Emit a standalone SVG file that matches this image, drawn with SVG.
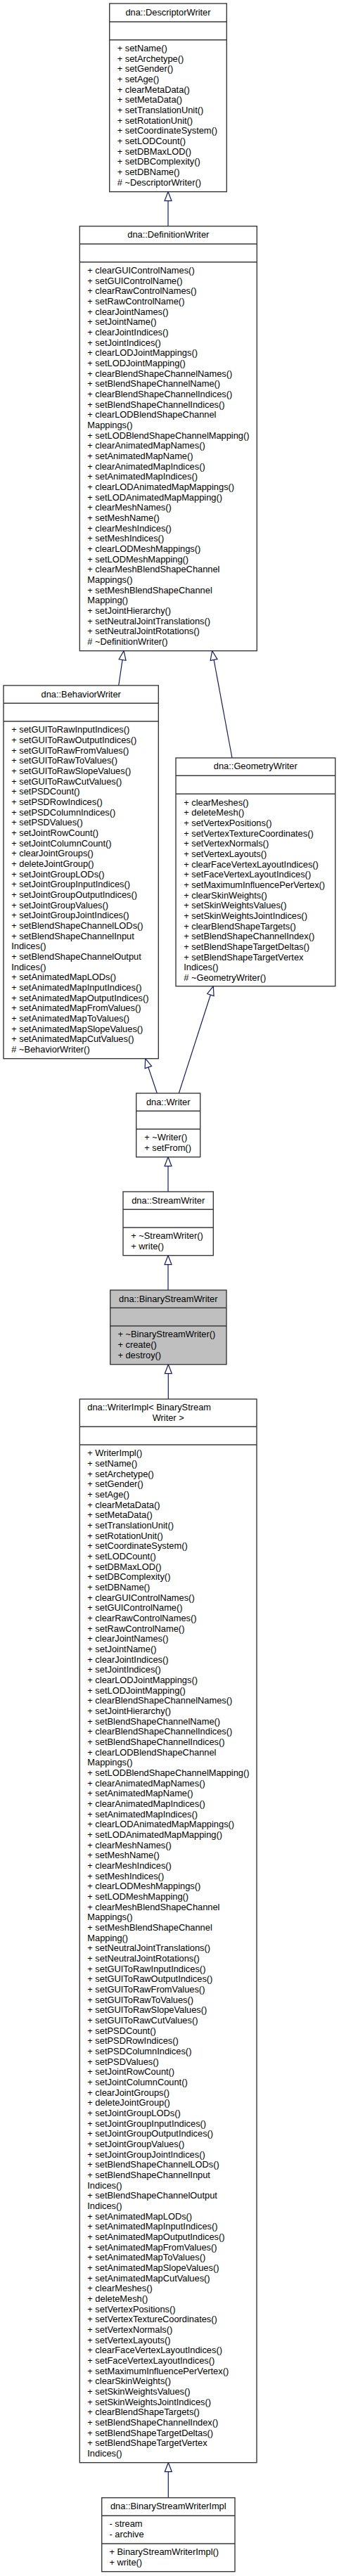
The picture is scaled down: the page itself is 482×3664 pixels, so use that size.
<svg xmlns="http://www.w3.org/2000/svg" width="482" height="3664" viewBox="0 0 482 3664">
<style>
.box{fill:#ffffff;stroke:#3a3a3a;stroke-width:1.4}
.cur{fill:#bfbfbf;stroke:#3a3a3a;stroke-width:1.4}
.sep{stroke:#3a3a3a;stroke-width:1.4}
text{font-family:"Liberation Sans",Arial,Helvetica,sans-serif;font-size:12.85px;fill:#000000}
.t{text-anchor:middle}
.edge{fill:none;stroke:#191970;stroke-width:1.2}
</style>
<defs>
<marker id="inh" markerUnits="userSpaceOnUse" viewBox="-1 -7 16 14" markerWidth="16" markerHeight="14" refX="13" refY="0" orient="auto" overflow="visible">
<path d="M0,-5 L13,0 L0,5 Z" fill="#ffffff" stroke="#191970" stroke-width="1.2"/>
</marker>
</defs>
<rect x="0" y="0" width="482" height="3664" fill="#ffffff"/>

<g id="connectors">
<line class="edge" x1="239" y1="321.7" x2="239" y2="272.7" marker-end="url(#inh)"/>
<line class="edge" x1="168.7" y1="975" x2="176" y2="925.7" marker-end="url(#inh)"/>
<line class="edge" x1="330" y1="1078" x2="301.7" y2="925.7" marker-end="url(#inh)"/>
<line class="edge" x1="223.3" y1="1555" x2="206.7" y2="1505.7" marker-end="url(#inh)"/>
<line class="edge" x1="254.3" y1="1555" x2="303.3" y2="1402.7" marker-end="url(#inh)"/>
<line class="edge" x1="239" y1="1695" x2="239" y2="1645.7" marker-end="url(#inh)"/>
<line class="edge" x1="239" y1="1835" x2="239" y2="1785.7" marker-end="url(#inh)"/>
<line class="edge" x1="239.3" y1="1990" x2="239.3" y2="1940.7" marker-end="url(#inh)"/>
<line class="edge" x1="239.3" y1="3552.7" x2="239.3" y2="3502.7" marker-end="url(#inh)"/>
</g>

<g id="DescriptorWriter">
<rect class="box" x="155.7" y="5" width="166.6" height="267.7"/>
<line class="sep" x1="155.7" y1="31" x2="322.3" y2="31"/>
<line class="sep" x1="155.7" y1="56.7" x2="322.3" y2="56.7"/>
<text class="t" x="239" y="22">dna::DescriptorWriter</text>
<text x="166.7" y="72.9"><tspan>+ setName()</tspan><tspan x="166.7" dy="14.667">+ setArchetype()</tspan><tspan x="166.7" dy="14.667">+ setGender()</tspan><tspan x="166.7" dy="14.667">+ setAge()</tspan><tspan x="166.7" dy="14.667">+ clearMetaData()</tspan><tspan x="166.7" dy="14.667">+ setMetaData()</tspan><tspan x="166.7" dy="14.667">+ setTranslationUnit()</tspan><tspan x="166.7" dy="14.667">+ setRotationUnit()</tspan><tspan x="166.7" dy="14.667">+ setCoordinateSystem()</tspan><tspan x="166.7" dy="14.667">+ setLODCount()</tspan><tspan x="166.7" dy="14.667">+ setDBMaxLOD()</tspan><tspan x="166.7" dy="14.667">+ setDBComplexity()</tspan><tspan x="166.7" dy="14.667">+ setDBName()</tspan><tspan x="166.7" dy="14.667"># ~DescriptorWriter()</tspan></text>
</g>

<g id="DefinitionWriter">
<rect class="box" x="113.3" y="321.7" width="252" height="604"/>
<line class="sep" x1="113.3" y1="347" x2="365.3" y2="347"/>
<line class="sep" x1="113.3" y1="372.7" x2="365.3" y2="372.7"/>
<text class="t" x="239.3" y="338.3">dna::DefinitionWriter</text>
<text x="124.3" y="388.9"><tspan>+ clearGUIControlNames()</tspan><tspan x="124.3" dy="14.667">+ setGUIControlName()</tspan><tspan x="124.3" dy="14.667">+ clearRawControlNames()</tspan><tspan x="124.3" dy="14.667">+ setRawControlName()</tspan><tspan x="124.3" dy="14.667">+ clearJointNames()</tspan><tspan x="124.3" dy="14.667">+ setJointName()</tspan><tspan x="124.3" dy="14.667">+ clearJointIndices()</tspan><tspan x="124.3" dy="14.667">+ setJointIndices()</tspan><tspan x="124.3" dy="14.667">+ clearLODJointMappings()</tspan><tspan x="124.3" dy="14.667">+ setLODJointMapping()</tspan><tspan x="124.3" dy="14.667">+ clearBlendShapeChannelNames()</tspan><tspan x="124.3" dy="14.667">+ setBlendShapeChannelName()</tspan><tspan x="124.3" dy="14.667">+ clearBlendShapeChannelIndices()</tspan><tspan x="124.3" dy="14.667">+ setBlendShapeChannelIndices()</tspan><tspan x="124.3" dy="14.667">+ clearLODBlendShapeChannel</tspan><tspan x="124.3" dy="14.667">Mappings()</tspan><tspan x="124.3" dy="14.667">+ setLODBlendShapeChannelMapping()</tspan><tspan x="124.3" dy="14.667">+ clearAnimatedMapNames()</tspan><tspan x="124.3" dy="14.667">+ setAnimatedMapName()</tspan><tspan x="124.3" dy="14.667">+ clearAnimatedMapIndices()</tspan><tspan x="124.3" dy="14.667">+ setAnimatedMapIndices()</tspan><tspan x="124.3" dy="14.667">+ clearLODAnimatedMapMappings()</tspan><tspan x="124.3" dy="14.667">+ setLODAnimatedMapMapping()</tspan><tspan x="124.3" dy="14.667">+ clearMeshNames()</tspan><tspan x="124.3" dy="14.667">+ setMeshName()</tspan><tspan x="124.3" dy="14.667">+ clearMeshIndices()</tspan><tspan x="124.3" dy="14.667">+ setMeshIndices()</tspan><tspan x="124.3" dy="14.667">+ clearLODMeshMappings()</tspan><tspan x="124.3" dy="14.667">+ setLODMeshMapping()</tspan><tspan x="124.3" dy="14.667">+ clearMeshBlendShapeChannel</tspan><tspan x="124.3" dy="14.667">Mappings()</tspan><tspan x="124.3" dy="14.667">+ setMeshBlendShapeChannel</tspan><tspan x="124.3" dy="14.667">Mapping()</tspan><tspan x="124.3" dy="14.667">+ setJointHierarchy()</tspan><tspan x="124.3" dy="14.667">+ setNeutralJointTranslations()</tspan><tspan x="124.3" dy="14.667">+ setNeutralJointRotations()</tspan><tspan x="124.3" dy="14.667"># ~DefinitionWriter()</tspan></text>
</g>

<g id="BehaviorWriter">
<rect class="box" x="5" y="975" width="220.3" height="530.7"/>
<line class="sep" x1="5" y1="1000.3" x2="225.3" y2="1000.3"/>
<line class="sep" x1="5" y1="1026" x2="225.3" y2="1026"/>
<text class="t" x="115.2" y="991.7">dna::BehaviorWriter</text>
<text x="16.2" y="1042.2"><tspan>+ setGUIToRawInputIndices()</tspan><tspan x="16.2" dy="14.667">+ setGUIToRawOutputIndices()</tspan><tspan x="16.2" dy="14.667">+ setGUIToRawFromValues()</tspan><tspan x="16.2" dy="14.667">+ setGUIToRawToValues()</tspan><tspan x="16.2" dy="14.667">+ setGUIToRawSlopeValues()</tspan><tspan x="16.2" dy="14.667">+ setGUIToRawCutValues()</tspan><tspan x="16.2" dy="14.667">+ setPSDCount()</tspan><tspan x="16.2" dy="14.667">+ setPSDRowIndices()</tspan><tspan x="16.2" dy="14.667">+ setPSDColumnIndices()</tspan><tspan x="16.2" dy="14.667">+ setPSDValues()</tspan><tspan x="16.2" dy="14.667">+ setJointRowCount()</tspan><tspan x="16.2" dy="14.667">+ setJointColumnCount()</tspan><tspan x="16.2" dy="14.667">+ clearJointGroups()</tspan><tspan x="16.2" dy="14.667">+ deleteJointGroup()</tspan><tspan x="16.2" dy="14.667">+ setJointGroupLODs()</tspan><tspan x="16.2" dy="14.667">+ setJointGroupInputIndices()</tspan><tspan x="16.2" dy="14.667">+ setJointGroupOutputIndices()</tspan><tspan x="16.2" dy="14.667">+ setJointGroupValues()</tspan><tspan x="16.2" dy="14.667">+ setJointGroupJointIndices()</tspan><tspan x="16.2" dy="14.667">+ setBlendShapeChannelLODs()</tspan><tspan x="16.2" dy="14.667">+ setBlendShapeChannelInput</tspan><tspan x="16.2" dy="14.667">Indices()</tspan><tspan x="16.2" dy="14.667">+ setBlendShapeChannelOutput</tspan><tspan x="16.2" dy="14.667">Indices()</tspan><tspan x="16.2" dy="14.667">+ setAnimatedMapLODs()</tspan><tspan x="16.2" dy="14.667">+ setAnimatedMapInputIndices()</tspan><tspan x="16.2" dy="14.667">+ setAnimatedMapOutputIndices()</tspan><tspan x="16.2" dy="14.667">+ setAnimatedMapFromValues()</tspan><tspan x="16.2" dy="14.667">+ setAnimatedMapToValues()</tspan><tspan x="16.2" dy="14.667">+ setAnimatedMapSlopeValues()</tspan><tspan x="16.2" dy="14.667">+ setAnimatedMapCutValues()</tspan><tspan x="16.2" dy="14.667"># ~BehaviorWriter()</tspan></text>
</g>

<g id="GeometryWriter">
<rect class="box" x="250" y="1078" width="226.7" height="324.7"/>
<line class="sep" x1="250" y1="1103.3" x2="476.7" y2="1103.3"/>
<line class="sep" x1="250" y1="1129.3" x2="476.7" y2="1129.3"/>
<text class="t" x="363.3" y="1094.3">dna::GeometryWriter</text>
<text x="261.2" y="1145.5"><tspan>+ clearMeshes()</tspan><tspan x="261.2" dy="14.667">+ deleteMesh()</tspan><tspan x="261.2" dy="14.667">+ setVertexPositions()</tspan><tspan x="261.2" dy="14.667">+ setVertexTextureCoordinates()</tspan><tspan x="261.2" dy="14.667">+ setVertexNormals()</tspan><tspan x="261.2" dy="14.667">+ setVertexLayouts()</tspan><tspan x="261.2" dy="14.667">+ clearFaceVertexLayoutIndices()</tspan><tspan x="261.2" dy="14.667">+ setFaceVertexLayoutIndices()</tspan><tspan x="261.2" dy="14.667">+ setMaximumInfluencePerVertex()</tspan><tspan x="261.2" dy="14.667">+ clearSkinWeights()</tspan><tspan x="261.2" dy="14.667">+ setSkinWeightsValues()</tspan><tspan x="261.2" dy="14.667">+ setSkinWeightsJointIndices()</tspan><tspan x="261.2" dy="14.667">+ clearBlendShapeTargets()</tspan><tspan x="261.2" dy="14.667">+ setBlendShapeChannelIndex()</tspan><tspan x="261.2" dy="14.667">+ setBlendShapeTargetDeltas()</tspan><tspan x="261.2" dy="14.667">+ setBlendShapeTargetVertex</tspan><tspan x="261.2" dy="14.667">Indices()</tspan><tspan x="261.2" dy="14.667"># ~GeometryWriter()</tspan></text>
</g>

<g id="Writer">
<rect class="box" x="193.7" y="1555" width="91" height="90.7"/>
<line class="sep" x1="193.7" y1="1580.3" x2="284.7" y2="1580.3"/>
<line class="sep" x1="193.7" y1="1606" x2="284.7" y2="1606"/>
<text class="t" x="239.2" y="1571.5">dna::Writer</text>
<text x="205.2" y="1622.2"><tspan>+ ~Writer()</tspan><tspan x="205.2" dy="14.667">+ setFrom()</tspan></text>
</g>

<g id="StreamWriter">
<rect class="box" x="175" y="1695" width="128.3" height="90.7"/>
<line class="sep" x1="175" y1="1720.3" x2="303.3" y2="1720.3"/>
<line class="sep" x1="175" y1="1746" x2="303.3" y2="1746"/>
<text class="t" x="239.2" y="1711.5">dna::StreamWriter</text>
<text x="186.2" y="1762.2"><tspan>+ ~StreamWriter()</tspan><tspan x="186.2" dy="14.667">+ write()</tspan></text>
</g>

<g id="BinaryStreamWriter">
<rect class="cur" x="156.7" y="1835" width="165.3" height="105.7"/>
<line class="sep" x1="156.7" y1="1860.3" x2="322" y2="1860.3"/>
<line class="sep" x1="156.7" y1="1886" x2="322" y2="1886"/>
<text class="t" x="239.3" y="1851.5">dna::BinaryStreamWriter</text>
<text x="167.4" y="1902.2"><tspan>+ ~BinaryStreamWriter()</tspan><tspan x="167.4" dy="14.667">+ create()</tspan><tspan x="167.4" dy="14.667">+ destroy()</tspan></text>
</g>

<g id="WriterImpl">
<rect class="box" x="113.3" y="1990" width="251.7" height="1512.7"/>
<line class="sep" x1="113.3" y1="2029.3" x2="365" y2="2029.3"/>
<line class="sep" x1="113.3" y1="2055" x2="365" y2="2055"/>
<text x="124.3" y="2006.3">dna::WriterImpl&lt; BinaryStream</text>
<text class="t" x="239.2" y="2021">Writer &gt;</text>
<text x="124.3" y="2071.2"><tspan>+ WriterImpl()</tspan><tspan x="124.3" dy="14.667">+ setName()</tspan><tspan x="124.3" dy="14.667">+ setArchetype()</tspan><tspan x="124.3" dy="14.667">+ setGender()</tspan><tspan x="124.3" dy="14.667">+ setAge()</tspan><tspan x="124.3" dy="14.667">+ clearMetaData()</tspan><tspan x="124.3" dy="14.667">+ setMetaData()</tspan><tspan x="124.3" dy="14.667">+ setTranslationUnit()</tspan><tspan x="124.3" dy="14.667">+ setRotationUnit()</tspan><tspan x="124.3" dy="14.667">+ setCoordinateSystem()</tspan><tspan x="124.3" dy="14.667">+ setLODCount()</tspan><tspan x="124.3" dy="14.667">+ setDBMaxLOD()</tspan><tspan x="124.3" dy="14.667">+ setDBComplexity()</tspan><tspan x="124.3" dy="14.667">+ setDBName()</tspan><tspan x="124.3" dy="14.667">+ clearGUIControlNames()</tspan><tspan x="124.3" dy="14.667">+ setGUIControlName()</tspan><tspan x="124.3" dy="14.667">+ clearRawControlNames()</tspan><tspan x="124.3" dy="14.667">+ setRawControlName()</tspan><tspan x="124.3" dy="14.667">+ clearJointNames()</tspan><tspan x="124.3" dy="14.667">+ setJointName()</tspan><tspan x="124.3" dy="14.667">+ clearJointIndices()</tspan><tspan x="124.3" dy="14.667">+ setJointIndices()</tspan><tspan x="124.3" dy="14.667">+ clearLODJointMappings()</tspan><tspan x="124.3" dy="14.667">+ setLODJointMapping()</tspan><tspan x="124.3" dy="14.667">+ clearBlendShapeChannelNames()</tspan><tspan x="124.3" dy="14.667">+ setJointHierarchy()</tspan><tspan x="124.3" dy="14.667">+ setBlendShapeChannelName()</tspan><tspan x="124.3" dy="14.667">+ clearBlendShapeChannelIndices()</tspan><tspan x="124.3" dy="14.667">+ setBlendShapeChannelIndices()</tspan><tspan x="124.3" dy="14.667">+ clearLODBlendShapeChannel</tspan><tspan x="124.3" dy="14.667">Mappings()</tspan><tspan x="124.3" dy="14.667">+ setLODBlendShapeChannelMapping()</tspan><tspan x="124.3" dy="14.667">+ clearAnimatedMapNames()</tspan><tspan x="124.3" dy="14.667">+ setAnimatedMapName()</tspan><tspan x="124.3" dy="14.667">+ clearAnimatedMapIndices()</tspan><tspan x="124.3" dy="14.667">+ setAnimatedMapIndices()</tspan><tspan x="124.3" dy="14.667">+ clearLODAnimatedMapMappings()</tspan><tspan x="124.3" dy="14.667">+ setLODAnimatedMapMapping()</tspan><tspan x="124.3" dy="14.667">+ clearMeshNames()</tspan><tspan x="124.3" dy="14.667">+ setMeshName()</tspan><tspan x="124.3" dy="14.667">+ clearMeshIndices()</tspan><tspan x="124.3" dy="14.667">+ setMeshIndices()</tspan><tspan x="124.3" dy="14.667">+ clearLODMeshMappings()</tspan><tspan x="124.3" dy="14.667">+ setLODMeshMapping()</tspan><tspan x="124.3" dy="14.667">+ clearMeshBlendShapeChannel</tspan><tspan x="124.3" dy="14.667">Mappings()</tspan><tspan x="124.3" dy="14.667">+ setMeshBlendShapeChannel</tspan><tspan x="124.3" dy="14.667">Mapping()</tspan><tspan x="124.3" dy="14.667">+ setNeutralJointTranslations()</tspan><tspan x="124.3" dy="14.667">+ setNeutralJointRotations()</tspan><tspan x="124.3" dy="14.667">+ setGUIToRawInputIndices()</tspan><tspan x="124.3" dy="14.667">+ setGUIToRawOutputIndices()</tspan><tspan x="124.3" dy="14.667">+ setGUIToRawFromValues()</tspan><tspan x="124.3" dy="14.667">+ setGUIToRawToValues()</tspan><tspan x="124.3" dy="14.667">+ setGUIToRawSlopeValues()</tspan><tspan x="124.3" dy="14.667">+ setGUIToRawCutValues()</tspan><tspan x="124.3" dy="14.667">+ setPSDCount()</tspan><tspan x="124.3" dy="14.667">+ setPSDRowIndices()</tspan><tspan x="124.3" dy="14.667">+ setPSDColumnIndices()</tspan><tspan x="124.3" dy="14.667">+ setPSDValues()</tspan><tspan x="124.3" dy="14.667">+ setJointRowCount()</tspan><tspan x="124.3" dy="14.667">+ setJointColumnCount()</tspan><tspan x="124.3" dy="14.667">+ clearJointGroups()</tspan><tspan x="124.3" dy="14.667">+ deleteJointGroup()</tspan><tspan x="124.3" dy="14.667">+ setJointGroupLODs()</tspan><tspan x="124.3" dy="14.667">+ setJointGroupInputIndices()</tspan><tspan x="124.3" dy="14.667">+ setJointGroupOutputIndices()</tspan><tspan x="124.3" dy="14.667">+ setJointGroupValues()</tspan><tspan x="124.3" dy="14.667">+ setJointGroupJointIndices()</tspan><tspan x="124.3" dy="14.667">+ setBlendShapeChannelLODs()</tspan><tspan x="124.3" dy="14.667">+ setBlendShapeChannelInput</tspan><tspan x="124.3" dy="14.667">Indices()</tspan><tspan x="124.3" dy="14.667">+ setBlendShapeChannelOutput</tspan><tspan x="124.3" dy="14.667">Indices()</tspan><tspan x="124.3" dy="14.667">+ setAnimatedMapLODs()</tspan><tspan x="124.3" dy="14.667">+ setAnimatedMapInputIndices()</tspan><tspan x="124.3" dy="14.667">+ setAnimatedMapOutputIndices()</tspan><tspan x="124.3" dy="14.667">+ setAnimatedMapFromValues()</tspan><tspan x="124.3" dy="14.667">+ setAnimatedMapToValues()</tspan><tspan x="124.3" dy="14.667">+ setAnimatedMapSlopeValues()</tspan><tspan x="124.3" dy="14.667">+ setAnimatedMapCutValues()</tspan><tspan x="124.3" dy="14.667">+ clearMeshes()</tspan><tspan x="124.3" dy="14.667">+ deleteMesh()</tspan><tspan x="124.3" dy="14.667">+ setVertexPositions()</tspan><tspan x="124.3" dy="14.667">+ setVertexTextureCoordinates()</tspan><tspan x="124.3" dy="14.667">+ setVertexNormals()</tspan><tspan x="124.3" dy="14.667">+ setVertexLayouts()</tspan><tspan x="124.3" dy="14.667">+ clearFaceVertexLayoutIndices()</tspan><tspan x="124.3" dy="14.667">+ setFaceVertexLayoutIndices()</tspan><tspan x="124.3" dy="14.667">+ setMaximumInfluencePerVertex()</tspan><tspan x="124.3" dy="14.667">+ clearSkinWeights()</tspan><tspan x="124.3" dy="14.667">+ setSkinWeightsValues()</tspan><tspan x="124.3" dy="14.667">+ setSkinWeightsJointIndices()</tspan><tspan x="124.3" dy="14.667">+ clearBlendShapeTargets()</tspan><tspan x="124.3" dy="14.667">+ setBlendShapeChannelIndex()</tspan><tspan x="124.3" dy="14.667">+ setBlendShapeTargetDeltas()</tspan><tspan x="124.3" dy="14.667">+ setBlendShapeTargetVertex</tspan><tspan x="124.3" dy="14.667">Indices()</tspan></text>
</g>

<g id="BinaryStreamWriterImpl">
<rect class="box" x="144.7" y="3552.7" width="189.3" height="105"/>
<line class="sep" x1="144.7" y1="3578.3" x2="334" y2="3578.3"/>
<line class="sep" x1="144.7" y1="3618" x2="334" y2="3618"/>
<text class="t" x="239.3" y="3569.2">dna::BinaryStreamWriterImpl</text>
<text x="155.4" y="3594"><tspan>- stream</tspan><tspan x="155.4" dy="14.667">- archive</tspan></text>
<text x="155.4" y="3634.2"><tspan>+ BinaryStreamWriterImpl()</tspan><tspan x="155.4" dy="14.667">+ write()</tspan></text>
</g>
</svg>
